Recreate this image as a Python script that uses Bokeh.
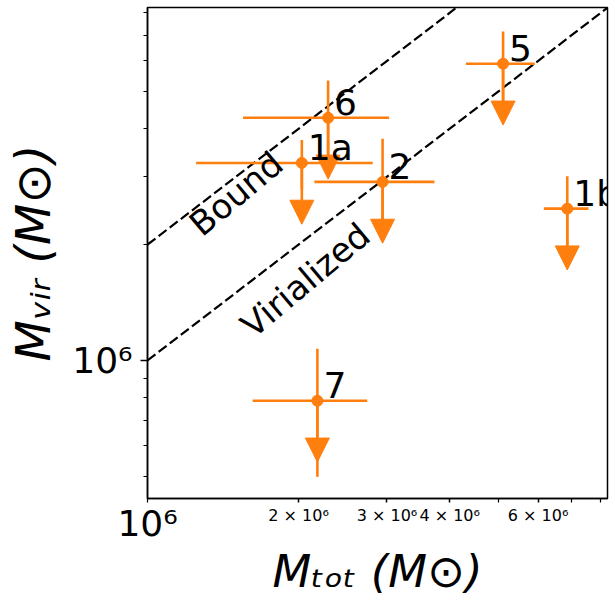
import math
from bokeh.plotting import figure
from bokeh.models import (Range1d, FixedTicker, ColumnDataSource, LabelSet, Label,
                          Arrow, NormalHead, LogAxis)
from bokeh.embed import file_html
from bokeh.resources import INLINE
from bokeh.core.properties import value

# ---------------- data ----------------
names = ["1a", "1b", "2", "5", "6", "7"]
m_tot = [2.03e6, 6.86e6, 2.94e6, 5.11e6, 2.29e6, 2.18e6]
m_tot_err = [0.78e6, 0.70e6, 0.79e6, 0.80e6, 0.74e6, 0.56e6]
m_vir = [3.26e6, 2.48e6, 2.91e6, 5.90e6, 4.27e6, 7.86e5]
m_vir_err = [0.48e6, 0.53e6, 0.86e6, 1.26e6, 1.07e6, 2.87e5]
limit_frac = 0.8            # upper-limit arrows drawn down to 80 % of the value

line_x = [1e6, 1e7]
virial_factor = 1.0         # M_vir = M_tot
bound_factor = 2.0          # M_vir = 2 M_tot
line_texts = ["Bound", "Virialized"]
line_text_x = [1.24e6, 1.57e6]
line_text_y = [2.2e6, 1.2e6]

x_lim = (1e6, 8.25e6)
y_lim = (4.38e5, 8.26e6)

x_label_ticks = [2e6, 3e6, 4e6, 6e6]
x_tick_labels = ["2 × 10⁶", "3 × 10⁶", "4 × 10⁶", "6 × 10⁶"]
x_minor_ticks = [1e6, 5e6, 7e6, 8e6]
x_big_ticks = [1e6]
x_big_labels = ["10⁶"]
y_major_ticks = [1e6]
y_tick_labels = ["10⁶"]
y_minor_ticks = [5e5, 6e5, 7e5, 8e5, 9e5, 2e6, 3e6, 4e6, 5e6, 6e6, 7e6, 8e6]

# ---------------- style ----------------
ORANGE = "#ff7f0e"
FONT = "DejaVu Sans"
W, H = 615, 605
MB_L, MB_R, MB_T, MB_B = 147, 8, 7, 107
HEAD = 24

ppd_y = (H - MB_T - MB_B) / math.log10(y_lim[1] / y_lim[0])
tip_factor = 10 ** (-HEAD / ppd_y)

src = ColumnDataSource(dict(
    name=names,
    x=m_tot, y=m_vir,
    x_lo=[x - e for x, e in zip(m_tot, m_tot_err)],
    x_hi=[x + e for x, e in zip(m_tot, m_tot_err)],
    y_lo=[y - e for y, e in zip(m_vir, m_vir_err)],
    y_hi=[y + e for y, e in zip(m_vir, m_vir_err)],
    y_tip=[y * limit_frac * tip_factor for y in m_vir],
))

p = figure(width=W, height=H, x_axis_type="log", y_axis_type="log",
           x_range=Range1d(*x_lim), y_range=Range1d(*y_lim),
           output_backend="svg", toolbar_location=None,
           min_border_left=MB_L, min_border_right=MB_R,
           min_border_top=MB_T, min_border_bottom=MB_B)
p.xgrid.visible = False
p.ygrid.visible = False
p.outline_line_color = "black"
p.outline_line_width = 1.5
p.outline_line_alpha = 1.0
p.background_fill_color = "white"
p.border_fill_color = "white"

# reference lines
p.line(line_x, [v * bound_factor for v in line_x], line_color="black",
       line_width=2.2, line_dash="10 4")
p.line(line_x, [v * virial_factor for v in line_x], line_color="black",
       line_width=2.2, line_dash="10 4")

# error bars
p.segment(x0="x_lo", y0="y", x1="x_hi", y1="y", source=src,
          line_color=ORANGE, line_width=2.6)
p.segment(x0="x", y0="y_lo", x1="x", y1="y_hi", source=src,
          line_color=ORANGE, line_width=2.6)
p.scatter("x", "y", source=src, size=11, fill_color=ORANGE, line_color=ORANGE)

# upper-limit arrows
p.add_layout(Arrow(end=NormalHead(size=HEAD, fill_color=ORANGE, line_color=ORANGE,
                                  line_width=1),
                   x_start="x", y_start="y", x_end="x", y_end="y_tip", source=src,
                   line_color=ORANGE, line_width=2.6))

# point names
p.add_layout(LabelSet(x="x", y="y", text="name", source=src, x_offset=6, y_offset=3,
                      text_font=value(FONT), text_font_size="36px",
                      text_color="black", text_align="left",
                      text_baseline="alphabetic"))

# line texts
for t, tx, ty in zip(line_texts, line_text_x, line_text_y):
    p.add_layout(Label(x=tx, y=ty, text=t, angle=40, angle_units="deg",
                       text_font=FONT, text_font_size="34px", text_color="black",
                       text_align="left", text_baseline="alphabetic"))

# x axis: small minor-style labels next to the frame
xa = p.xaxis[0]
xa.ticker = FixedTicker(ticks=x_label_ticks, minor_ticks=x_minor_ticks)
xa.major_label_overrides = {t: s for t, s in zip(x_label_ticks, x_tick_labels)}
xa.major_label_text_font = FONT
xa.major_label_text_font_size = "16px"
xa.major_label_text_color = "black"
xa.major_label_standoff = 3
xa.major_tick_out = 4
xa.major_tick_in = 0
xa.minor_tick_out = 4
xa.minor_tick_in = 0

# second x axis: the big decade label (pulled up next to the frame) and the title
xa2 = LogAxis(ticker=FixedTicker(ticks=x_big_ticks, minor_ticks=[]))
xa2.major_label_overrides = {t: s for t, s in zip(x_big_ticks, x_big_labels)}
xa2.major_label_text_font = FONT
xa2.major_label_text_font_size = "36px"
xa2.major_label_text_color = "black"
xa2.major_label_standoff = -25
xa2.axis_line_color = None
xa2.major_tick_line_color = None
xa2.minor_tick_line_color = None
xa2.major_tick_out = 0
xa2.major_tick_in = 0
xa2.minor_tick_out = 0
xa2.minor_tick_in = 0
xa2.axis_label = "Mₜₒₜ (M⊙)"
xa2.axis_label_text_font = FONT
xa2.axis_label_text_font_size = "45px"
xa2.axis_label_text_font_style = "italic"
xa2.axis_label_text_color = "black"
xa2.axis_label_standoff = -2
p.add_layout(xa2, "below")

ya = p.yaxis[0]
ya.ticker = FixedTicker(ticks=y_major_ticks, minor_ticks=y_minor_ticks)
ya.major_label_overrides = {t: s for t, s in zip(y_major_ticks, y_tick_labels)}
ya.major_label_text_font = FONT
ya.major_label_text_font_size = "36px"
ya.major_label_text_color = "black"
ya.major_label_standoff = 8
ya.major_tick_out = 7
ya.major_tick_in = 0
ya.minor_tick_out = 4
ya.minor_tick_in = 0
ya.axis_label = "Mᵥᵢᵣ (M⊙)"
ya.axis_label_text_font = FONT
ya.axis_label_text_font_size = "48px"
ya.axis_label_text_font_style = "italic"
ya.axis_label_text_color = "black"
ya.axis_label_standoff = 8

for ax in (xa, ya):
    ax.axis_line_color = "black"
    ax.axis_line_width = 1.5
    ax.major_tick_line_color = "black"
    ax.major_tick_line_width = 1.5
    ax.minor_tick_line_color = "black"
    ax.minor_tick_line_width = 1.2

open("out.html", "w").write(file_html(p, INLINE))
